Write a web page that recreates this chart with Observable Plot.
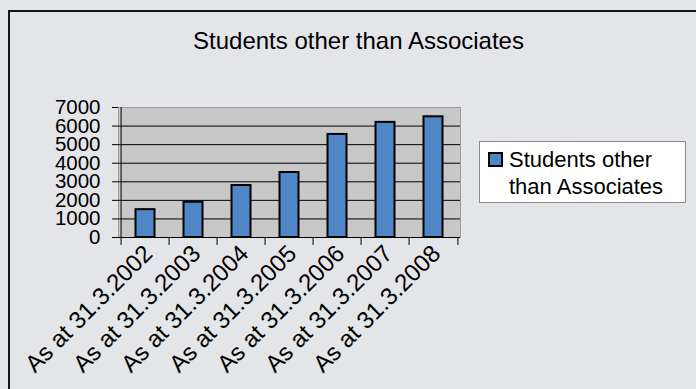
<!DOCTYPE html>
<html>
<head>
<meta charset="utf-8">
<script src="https://cdn.jsdelivr.net/npm/d3@7"></script>
<script src="https://cdn.jsdelivr.net/npm/@observablehq/plot@0.6"></script>
<style>
  html, body { margin: 0; padding: 0; background: #e4e5e9; }
  #wrap { position: relative; width: 696px; height: 389px; overflow: hidden; background: #e4e5e9;
          font-family: "Liberation Sans", Arial, sans-serif; color: #000; }
  #frame { position: absolute; left: 8px; top: 10px; width: 760px; height: 460px; border: 2px solid #151515; box-sizing: border-box; }
  #title { position: absolute; left: 0; width: 717px; top: 29px; text-align: center; font-size: 24px; line-height: 24px; }
  #chart { position: absolute; left: 0; top: 0; }
  #legend { position: absolute; left: 479px; top: 141px; width: 207px; height: 62px; box-sizing: border-box;
            background: #fff; border: 1px solid #8a8a8a; }
  #legend .sw { position: absolute; left: 8px; top: 10px; width: 15px; height: 15px; box-sizing: border-box;
                background: #4f86c6; border: 2px solid #000; }
  #legend .tx { position: absolute; left: 29px; top: 5px; font-size: 22px; line-height: 26.5px; white-space: nowrap; }
</style>
</head>
<body>
<div id="wrap">
  <div id="frame"></div>
  <div id="chart"></div>
  <div id="title"></div>
  <div id="legend"><div class="sw"></div><div class="tx"></div></div>
</div>
<script>
const chartTitle = "Students other than Associates";
const seriesName = ["Students other", "than Associates"];
const categories = ["As at 31.3.2002", "As at 31.3.2003", "As at 31.3.2004", "As at 31.3.2005", "As at 31.3.2006", "As at 31.3.2007", "As at 31.3.2008"];
const values = [1500, 1900, 2800, 3500, 5550, 6200, 6500];
const yTicks = [0, 1000, 2000, 3000, 4000, 5000, 6000, 7000];

const data = categories.map((c, i) => ({cat: c, value: values[i]}));

const W = 696, H = 389, ML = 118, MR = 236, MT = 107, MB = 152;
const step = (W - ML - MR) / categories.length;

const plot = Plot.plot({
  width: W, height: H,
  marginLeft: ML, marginRight: MR, marginTop: MT, marginBottom: MB,
  style: {background: "transparent", fontFamily: "'Liberation Sans', Arial, sans-serif", color: "#000", overflow: "visible"},
  x: {domain: categories, padding: 0, axis: null},
  y: {domain: [0, 7000], axis: null},
  marks: [
    Plot.frame({fill: "#c8c8c9", stroke: "#9c9c9c"}),
    Plot.gridY(yTicks.filter(v => v > 0 && v < 7000), {stroke: "#000", strokeOpacity: 1}),
    Plot.barY(data, {x: "cat", y: "value", fill: "#4f86c6", stroke: "#000", strokeWidth: 2, insetLeft: 14.5, insetRight: 14.5}),
    Plot.ruleY([0], {stroke: "#000"}),
    Plot.ruleX([categories[0]], {y1: 0, y2: 7000, stroke: "#000", dx: -step / 2}),
    Plot.ruleX(categories, {y1: 0, y2: 0, insetBottom: -8, stroke: "#000", dx: -step / 2}),
    Plot.ruleX([categories[categories.length - 1]], {y1: 0, y2: 0, insetBottom: -8, stroke: "#000", dx: step / 2}),
    Plot.axisY({ticks: yTicks, tickSize: 6, tickPadding: 12, fontSize: 20.5, label: null, tickFormat: d => String(d)}),
    Plot.axisX({tickSize: 0, tickRotate: -45, tickPadding: 12, fontSize: 24, label: null, dx: 3})
  ]
});
document.getElementById("chart").appendChild(plot);
document.getElementById("title").textContent = chartTitle;
document.querySelector("#legend .tx").innerHTML = seriesName.join("<br>");
</script>
</body>
</html>
